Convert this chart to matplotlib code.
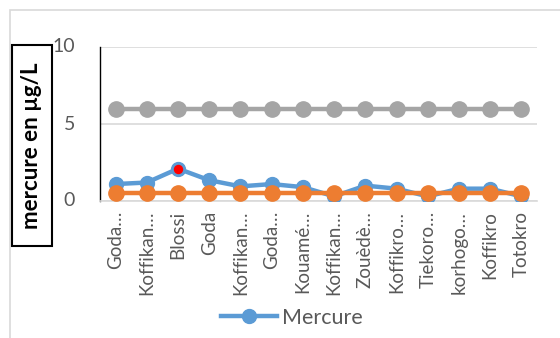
import matplotlib
matplotlib.use("Agg")
import matplotlib.pyplot as plt
from matplotlib.patches import Rectangle
from matplotlib.lines import Line2D

plt.rcParams['font.family'] = ['Lato', 'DejaVu Sans']

sites = ["Goda…", "Koffikan…", "Blossi", "Goda", "Koffikan…", "Goda…",
         "Kouamé…", "Koffikan…", "Zouèdè…", "Koffikro…", "Tiekoro…",
         "korhogo…", "Koffikro", "Totokro"]
mercure = [1.1, 1.2, 2.1, 1.35, 0.95, 1.1, 0.9, 0.3, 1.0, 0.8, 0.3, 0.8, 0.8, 0.3]
seuil_bas = [0.5] * 14
seuil_haut = [6] * 14
highlight = 2  # Blossi, highest value

BLUE = "#5B9BD5"
ORANGE = "#ED7D31"
GRAY = "#A5A5A5"
TXT = "#595959"

fig = plt.figure(figsize=(5.6, 3.38), dpi=100)
ax = fig.add_axes([100 / 560, 1 - 201 / 338, 437 / 560, 154 / 338])

x = list(range(len(sites)))
ax.plot(x, mercure, color=BLUE, lw=3.2, marker='o', ms=10, zorder=3)
ax.plot([x[highlight]], [mercure[highlight]], 'o', ms=8, mfc='#FF0000',
        mec=BLUE, mew=1.2, zorder=3.5)
ax.plot(x, seuil_bas, color=ORANGE, lw=3.2, marker='o', ms=11, zorder=4)
ax.plot(x, seuil_haut, color=GRAY, lw=3.2, marker='o', ms=11, zorder=4)

ax.set_xlim(-0.5, len(sites) - 0.5)
ax.set_ylim(0, 10)
ax.set_yticks([0, 5, 10])
ax.yaxis.grid(True, color="#D9D9D9", lw=1.2)
ax.set_axisbelow(True)
ax.set_xticks(x)
ax.set_xticklabels(sites, rotation=90, fontsize=13.5, color=TXT)
ax.tick_params(axis='x', length=0, pad=7)
ax.tick_params(axis='y', length=0, pad=18, labelsize=14, labelcolor=TXT)
for lbl in ax.get_yticklabels():
    lbl.set_verticalalignment('center')

for s in ('top', 'right'):
    ax.spines[s].set_visible(False)
ax.spines['left'].set_color('black')
ax.spines['left'].set_linewidth(1.0)
ax.spines['bottom'].set_color('#D9D9D9')
ax.spines['bottom'].set_linewidth(1.2)

# outer chart frame
fig.add_artist(Rectangle((10 / 560, -0.1), 1.0, 1 - 10 / 338 + 0.1,
                         transform=fig.transFigure, fill=False,
                         ec="#D9D9D9", lw=1.2))

# boxed y-axis title
fig.add_artist(Rectangle((12 / 560, 1 - 246 / 338), 40 / 560, 201 / 338,
                         transform=fig.transFigure, fill=True, fc='white',
                         ec='black', lw=1.5))
fig.text(32 / 560, 1 - 146 / 338, "mercure en µg/L", rotation=90,
         ha='center', va='center', fontsize=16, fontweight='bold',
         color='black')

handle = Line2D([], [], color=BLUE, lw=3.2, marker='o', ms=10)
fig.legend([handle], ["Mercure"], loc='center', bbox_to_anchor=(292 / 560, 1 - 318 / 338),
           frameon=False, fontsize=15.5, labelcolor=TXT, handlelength=2.6,
           handletextpad=0.2, borderpad=0)

fig.savefig("out.png", dpi=100)
